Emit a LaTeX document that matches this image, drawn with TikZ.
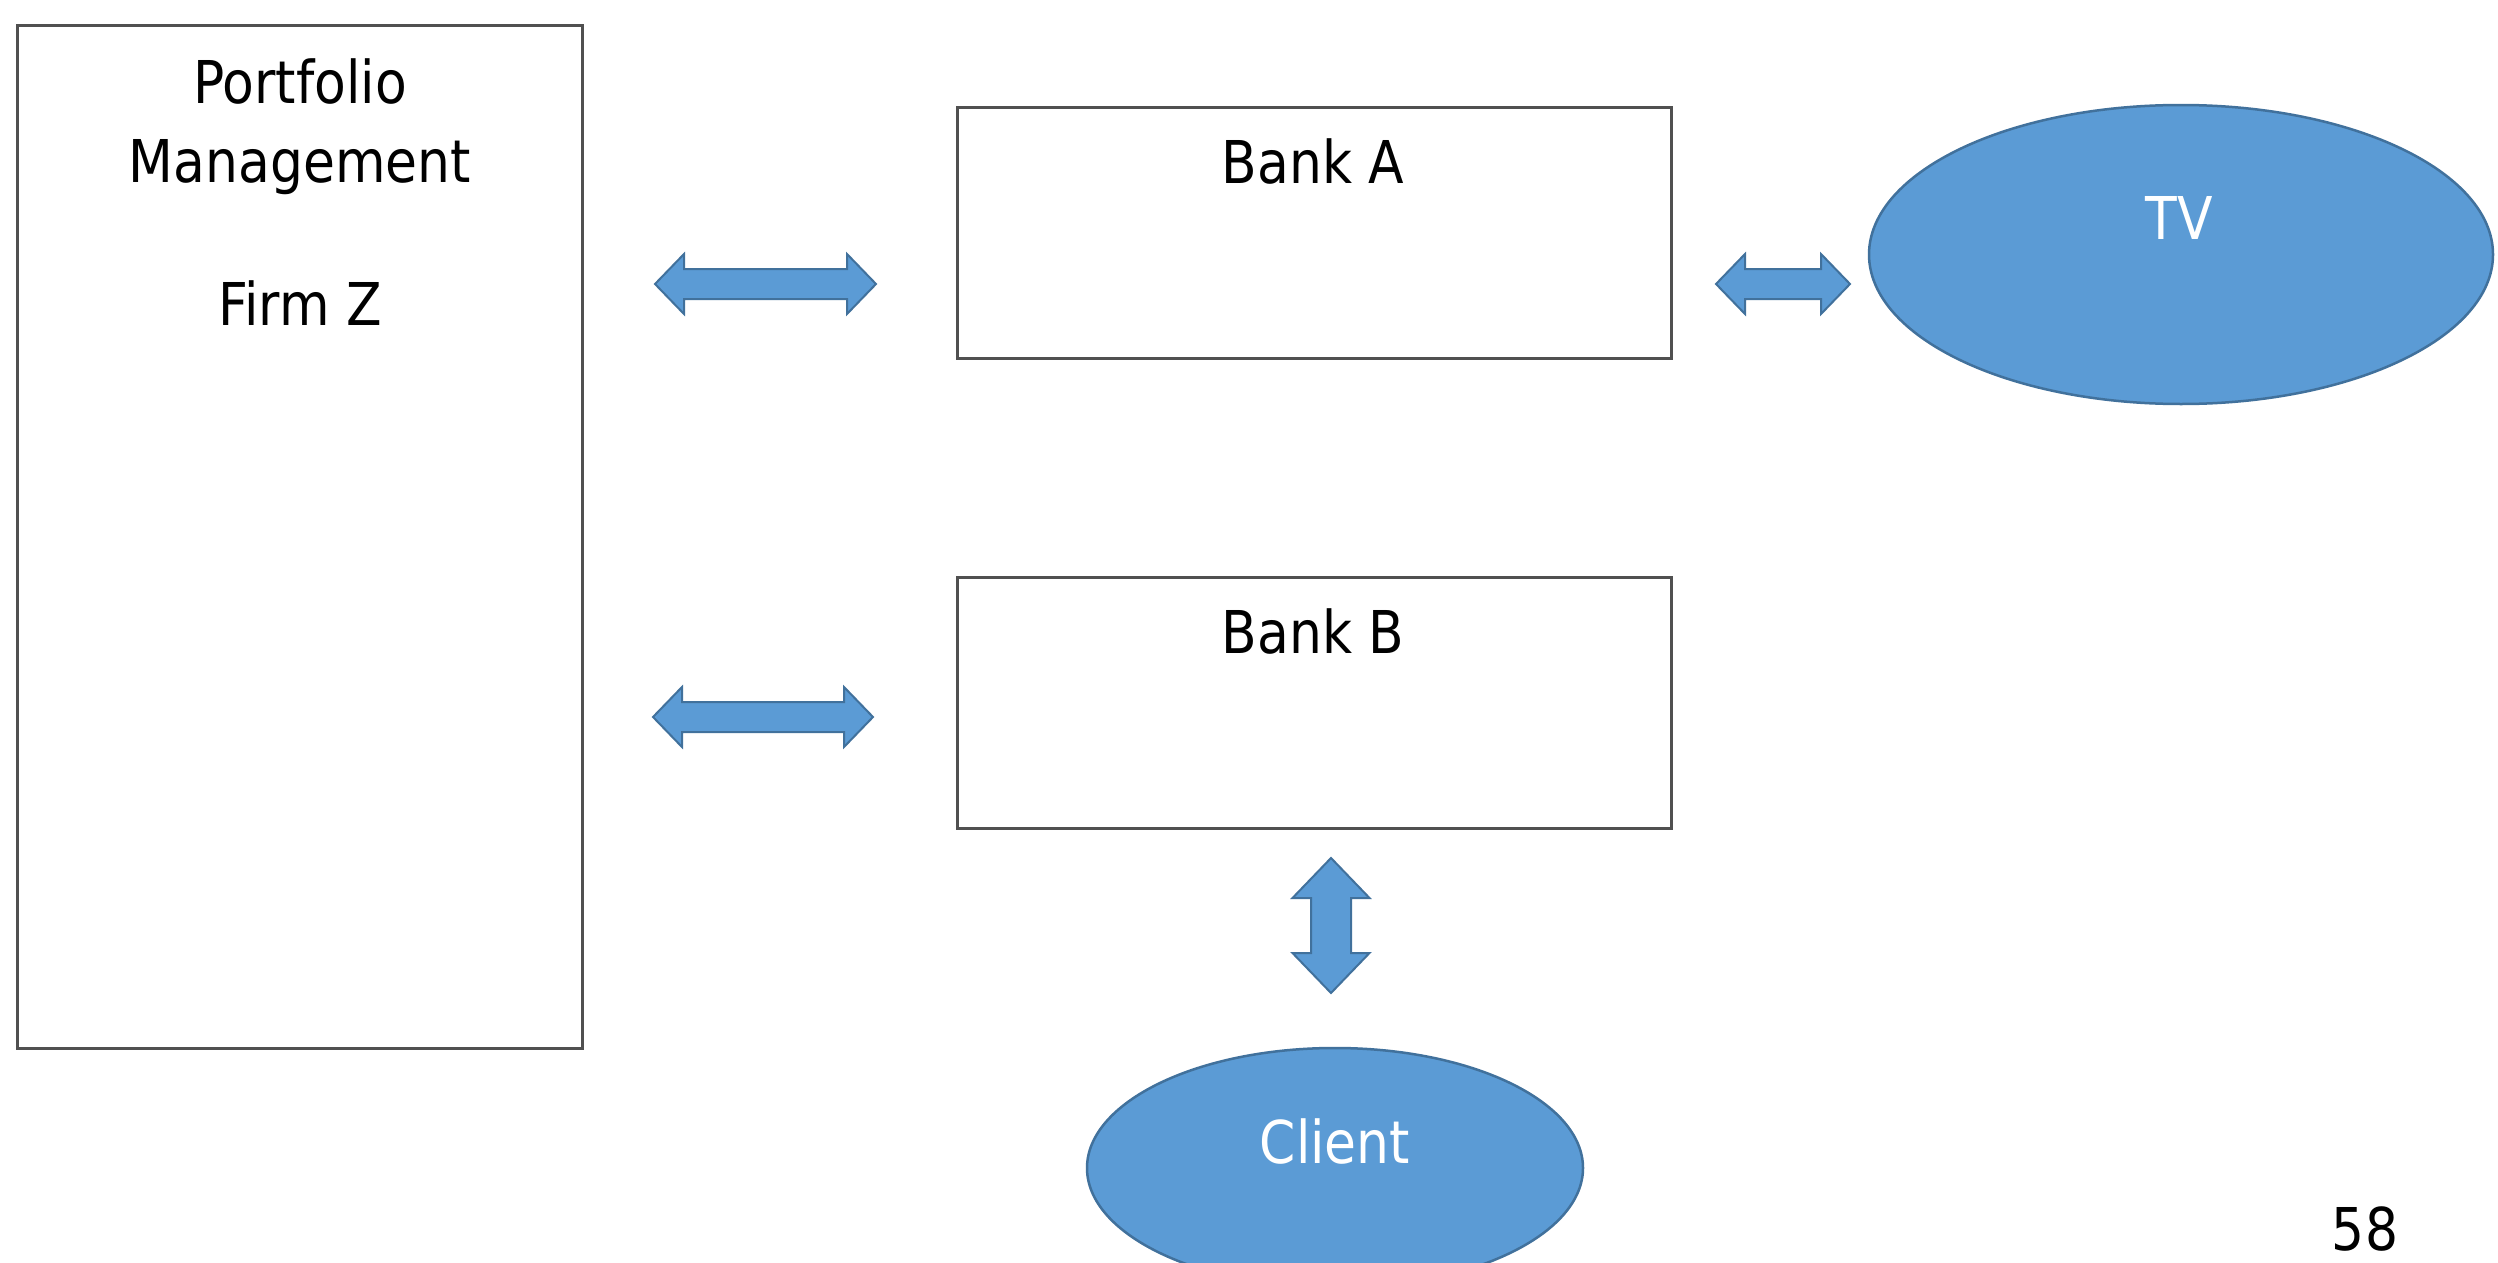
\documentclass[tikz,border=0pt]{standalone}
\usepackage{fontspec}
\setmainfont{DejaVu Sans}[FakeStretch=0.88]
\usetikzlibrary{shapes.geometric}
\definecolor{fillblue}{HTML}{5B9BD5}
\definecolor{edgeblue}{HTML}{41719C}
\definecolor{boxedge}{HTML}{505050}
\tikzset{
  boxnode/.style={draw=boxedge, line width=3pt, fill=white, rectangle, inner sep=0pt},
  ovalnode/.style={ellipse, draw=edgeblue, line width=2.5pt, fill=fillblue, inner sep=0pt},
  blockarrow/.style={fill=fillblue, draw=edgeblue, line width=2pt, line join=miter},
  lbl/.style={font=\fontsize{59}{70}\selectfont, anchor=base, inner sep=0pt},
  harrow/.pic={
    \path[blockarrow] ({-#1/2},0) -- ({-#1/2+29},-30) -- ({-#1/2+29},-15) -- ({#1/2-29},-15)
      -- ({#1/2-29},-30) -- ({#1/2},0) -- ({#1/2-29},30) -- ({#1/2-29},15)
      -- ({-#1/2+29},15) -- ({-#1/2+29},30) -- cycle;
  },
  varrow/.pic={
    \path[blockarrow] (0,{-#1/2}) -- (-38.5,{-#1/2+40}) -- (-20,{-#1/2+40}) -- (-20,{#1/2-40})
      -- (-38.5,{#1/2-40}) -- (0,{#1/2}) -- (38.5,{#1/2-40}) -- (20,{#1/2-40})
      -- (20,{-#1/2+40}) -- (38.5,{-#1/2+40}) -- cycle;
  },
}
\begin{document}
\begin{tikzpicture}[x=1pt, y=-1pt]
  \useasboundingbox (0,0) rectangle (2498,1263);
  \clip (0,0) rectangle (2498,1263);
  \fill[white] (0,0) rectangle (2498,1263);

  % boxes
  \node[boxnode, minimum width=565pt, minimum height=1022pt] (pm) at (300,537) {};
  \node[boxnode, minimum width=714pt, minimum height=251pt] (bankA) at (1314,232.5) {};
  \node[boxnode, minimum width=714pt, minimum height=251pt] (bankB) at (1314,702.5) {};

  % ellipses
  \node[ovalnode, minimum width=624pt, minimum height=299pt] (tv) at (2181,254.5) {};
  \node[ovalnode, minimum width=496pt, minimum height=240pt] (client) at (1335,1168) {};

  % labels
  \node[lbl] (pmt1) at (300,103) {Portfolio};
  \node[lbl] (pmt2) at (300,182) {Management};
  \node[lbl] (pmt3) at (300,325) {Firm Z};
  \node[lbl] (bankAt) at (1313,183) {Bank A};
  \node[lbl] (bankBt) at (1313,653) {Bank B};
  \node[lbl, text=white] (tvt) at (2179,239) {TV};
  \node[lbl, text=white] (clientt) at (1335,1163) {Client};
  \node[lbl] (pagenum) at (2365,1250) {58};

  % block arrows
  \pic (arrA) at (765.5,284) {harrow=221};
  \pic (arrTV) at (1783,284) {harrow=134};
  \pic (arrB) at (763,717) {harrow=220};
  \pic (arrC) at (1331,925.5) {varrow=135};
\end{tikzpicture}
\end{document}
